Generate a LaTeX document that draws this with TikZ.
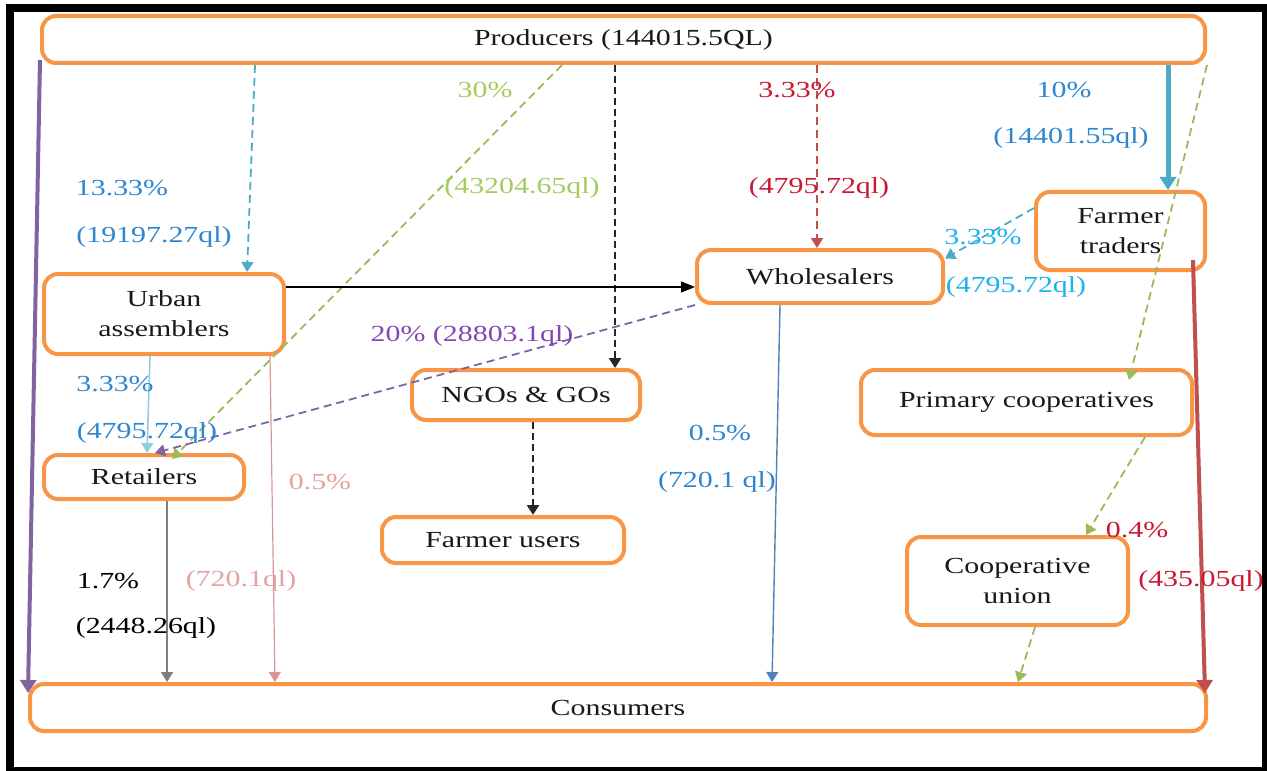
\documentclass[tikz,border=0pt]{standalone}
\usepackage{fontspec}
\setmainfont{Liberation Serif}[FakeStretch=1.3]
\usetikzlibrary{arrows.meta,positioning}

\definecolor{boxorange}{HTML}{F79646}
\definecolor{flowpurple}{HTML}{8064A2}
\definecolor{flowteal}{HTML}{4BACC6}
\definecolor{flowgreen}{HTML}{9BBB59}
\definecolor{flowred}{HTML}{C0504D}
\definecolor{flowblue}{HTML}{4F81BD}
\definecolor{flowlight}{HTML}{93CDDD}
\definecolor{flowpink}{HTML}{D99694}
\definecolor{flowgray}{HTML}{7F7F7F}
\definecolor{txtblue}{HTML}{2E86D0}
\definecolor{txtcyan}{HTML}{1CB2EC}
\definecolor{txtgreen}{HTML}{A2CC5E}
\definecolor{txtred}{HTML}{C9182F}
\definecolor{txtpink}{HTML}{E3A2A2}
\definecolor{txtpurple}{HTML}{8446B4}

\tikzset{
	stage/.style={draw=boxorange, line width=2pt, rounded corners=7pt, fill=white,
		align=center, text=black!90, font=\fontsize{11.5}{15}\selectfont},
	lbl/.style={inner sep=0pt, font=\fontsize{11.5}{15}\selectfont},
	tip/.style={-{Triangle[length=5pt,width=6pt]}},
	bigtip/.style={-{Triangle[length=6.5pt,width=8pt]}},
	dashflow/.style={tip, line width=0.9pt, dash pattern=on 4pt off 2.5pt},
}

\begin{document}
\begin{tikzpicture}[x=0.5pt,y=-0.5pt]
			\useasboundingbox (0,0) rectangle (1267,770);
			\draw[line width=4pt] (10,8) rectangle (1266,771);

			% Define nodes
			\node[stage, minimum width=581.5pt, minimum height=23.5pt] (prod) at (623.5,39.5) {Producers (144015.5QL)};
			\node[stage, minimum width=120pt, minimum height=40pt]     (ua)   at (164,314)    {Urban\\assemblers};
			\node[stage, minimum width=100pt, minimum height=22pt]     (ret)  at (144,477)    {Retailers};
			\node[stage, minimum width=114pt, minimum height=25pt]     (ngo)  at (526,395)    {NGOs \& GOs};
			\node[stage, minimum width=121pt, minimum height=23pt]     (fu)   at (503,540)    {Farmer users};
			\node[stage, minimum width=123pt, minimum height=26.5pt]   (wh)   at (820,276.5)  {Wholesalers};
			\node[stage, minimum width=84.5pt, minimum height=39pt]    (ft)   at (1120.5,231) {Farmer\\traders};
			\node[stage, minimum width=165.5pt, minimum height=32.5pt] (pc)   at (1026.5,402.5) {Primary cooperatives};
			\node[stage, minimum width=110.5pt, minimum height=44pt]   (cu)   at (1017.5,581) {Cooperative\\union};
			\node[stage, minimum width=588pt, minimum height=23.5pt]   (cons) at (618,707.5)  {Consumers};

			% Connect the nodes
			\draw[bigtip, flowpurple, line width=2pt] ([yshift=2.5pt]prod.south west) -- ([yshift=-5.5pt]cons.north west);
			\draw[dashflow, flowteal] (prod.south -| 255,0) -- (ua.north -| 247,0);
			\draw[dashflow, flowgreen] (prod.south -| 562,0) -- ([yshift=-3pt]ret.north -| 172,0);
			\draw[tip, black!85, line width=1.3pt, dash pattern=on 3.5pt off 2pt] (prod.south -| 615,0) -- (ngo.north -| 615,0);
			\draw[tip, black!85, line width=1.3pt, dash pattern=on 3.5pt off 2pt] (ngo.south -| 533,0) -- (fu.north -| 533,0);
			\draw[dashflow, flowred] (prod.south -| 817,0) -- (wh.north -| 817,0);
			\draw[bigtip, flowteal, line width=2.5pt] (prod.south -| 1168,0) -- (ft.north -| 1168,0);
			\draw[dashflow, flowgreen] (prod.south east) -- ([yshift=-6pt]pc.north -| 1129,0);
			\draw[dashflow, flowteal] ([yshift=11.5pt]ft.west) -- ([yshift=9pt]wh.east);
			\draw[-{Triangle[length=7pt,width=5.5pt]}, black, line width=0.6pt] (ua.east |- 0,287) -- (wh.west |- 0,287);
			\draw[dashflow, flowpurple] (wh.south west) -- (ret.north -| 155,0);
			\draw[tip, flowlight, line width=0.8pt] (ua.south -| 150,0) -- (ret.north -| 147,0);
			\draw[tip, flowpink, line width=0.6pt] (ua.south -| 270,0) -- (cons.north -| 275,0);
			\draw[tip, flowgray, line width=0.8pt] (ret.south -| 167,0) -- (cons.north -| 167,0);
			\draw[tip, flowblue, line width=0.7pt] (wh.south -| 780,0) -- (cons.north -| 772,0);
			\draw[dashflow, flowgreen] (pc.south -| 1145,0) -- (cu.north -| 1086,0);
			\draw[dashflow, flowgreen] (cu.south -| 1035,0) -- (cons.north -| 1018,0);
			\draw[bigtip, flowred, line width=2pt] ([yshift=6pt]ft.south -| 1193,0) -- ([yshift=-5.5pt]cons.north -| 1205,0);

			% Shares and quantities
			\node[lbl, text=txtblue]   (ua_p)   at (122,188)  {13.33\%};
			\node[lbl, text=txtblue]   (ua_q)   at (154,237)  {(19197.27ql)};
			\node[lbl, text=txtgreen]  (ret_p)  at (485,90)   {30\%};
			\node[lbl, text=txtgreen]  (ret_q)  at (522,188)  {(43204.65ql)};
			\node[lbl, text=txtred]    (wh_p)   at (797,90)   {3.33\%};
			\node[lbl, text=txtred]    (wh_q)   at (819,188)  {(4795.72ql)};
			\node[lbl, text=txtblue]   (ft_p)   at (1064,90)  {10\%};
			\node[lbl, text=txtblue]   (ft_q)   at (1071,138) {(14401.55ql)};
			\node[lbl, text=txtcyan]   (ftw_p)  at (983,237)  {3.33\%};
			\node[lbl, text=txtcyan]   (ftw_q)  at (1016,287) {(4795.72ql)};
			\node[lbl, text=txtpurple] (whr_pq) at (472,336)  {20\% (28803.1ql)};
			\node[lbl, text=txtblue]   (uar_p)  at (115,384)  {3.33\%};
			\node[lbl, text=txtblue]   (uar_q)  at (147,433)  {(4795.72ql)};
			\node[lbl, text=txtpink]   (uac_p)  at (320,482)  {0.5\%};
			\node[lbl, text=txtpink]   (uac_q)  at (241,581)  {(720.1ql)};
			\node[lbl, text=txtblue]   (whc_p)  at (720,433)  {0.5\%};
			\node[lbl, text=txtblue]   (whc_q)  at (717,482)  {(720.1 ql)};
			\node[lbl, text=black]     (retc_p) at (108,581)  {1.7\%};
			\node[lbl, text=black]     (retc_q) at (146,628)  {(2448.26ql)};
			\node[lbl, text=txtred]    (ftc_p)  at (1137,530) {0.4\%};
			\node[lbl, text=txtred]    (ftc_q)  at (1201,581) {(435.05ql)};

\end{tikzpicture}
\end{document}
